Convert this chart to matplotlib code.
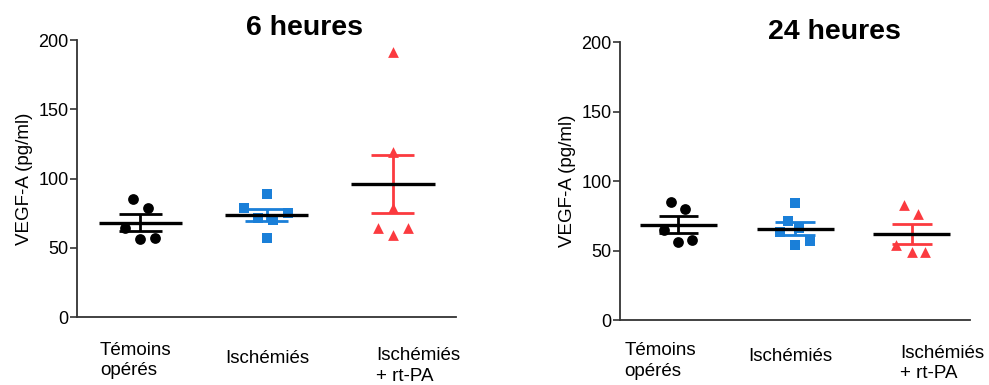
import numpy as np
import matplotlib
matplotlib.use("Agg")
import matplotlib.pyplot as plt
import matplotlib.transforms as mtransforms

plt.rcParams['font.family'] = ['Liberation Sans', 'DejaVu Sans']

# groups and values (pg/ml)
groups = ["Témoins\nopérés", "Ischémiés", "Ischémiés\n+ rt-PA"]
titles = ["6 heures", "24 heures"]

temoins_6h = [85, 79, 64, 56, 57]
ischemies_6h = [89, 79, 71.5, 70, 75, 57]
rtpa_6h = [191, 119, 79, 64, 59, 64]

temoins_24h = [85, 80, 65, 56, 57.5]
ischemies_24h = [84, 71, 63, 66, 57, 54]
rtpa_24h = [82.5, 76.5, 54, 49, 49]

yticks = [0, 50, 100, 150, 200]

# horizontal spread of the dots inside a group (layout only)
jitter_temoins = [-0.06, 0.06, -0.12, 0.0, 0.12]
jitter_isch_6h = [0.0, -0.18, -0.07, 0.055, 0.17, 0.0]
jitter_rtpa_6h = [0.0, 0.0, 0.0, -0.12, 0.0, 0.12]
jitter_isch_24h = [0.0, -0.06, -0.13, 0.03, 0.13, 0.0]
jitter_rtpa_24h = [-0.065, 0.055, -0.135, 0.0, 0.115]

COLORS = ["black", "#1a7fd8", "#fb3a3f"]
MARKERS = ["o", "s", "^"]

fig = plt.figure(figsize=(9.89, 3.85), dpi=100)
ax1 = fig.add_axes([0.0779, 0.1766, 0.3832, 0.7195])
ax2 = fig.add_axes([0.6269, 0.1688, 0.3539, 0.7221])

panels = [
    (ax1, [temoins_6h, ischemies_6h, rtpa_6h],
     [jitter_temoins, jitter_isch_6h, jitter_rtpa_6h]),
    (ax2, [temoins_24h, ischemies_24h, rtpa_24h],
     [jitter_temoins, jitter_isch_24h, jitter_rtpa_24h]),
]

# label placement: (x shift from group centre, top in axes fraction)
label_pos = [
    [(-0.32, -0.09), (-0.33, -0.12), (-0.13, -0.11)],
    [(-0.46, -0.08), (-0.40, -0.10), (-0.10, -0.09)],
]
title_pos = [(304, 28), (834, 32)]

for k, (ax, data, jit) in enumerate(panels):
    for i, vals in enumerate(data):
        vals = np.array(vals, dtype=float)
        xs = i + np.array(jit[i])
        mean = vals.mean()
        sem = vals.std(ddof=1) / np.sqrt(len(vals))
        ax.scatter(xs, vals, marker=MARKERS[i], s=60, color=COLORS[i],
                   linewidths=0, zorder=2)
        # SEM bar in group colour, mean line in black
        ax.vlines(i, mean - sem, mean + sem, color=COLORS[i], lw=2, zorder=3)
        ax.hlines([mean - sem, mean + sem], i - 0.17, i + 0.17,
                  color=COLORS[i], lw=2, zorder=3)
        ax.hlines(mean, i - 0.33, i + 0.33, color="black", lw=2.4, zorder=4)

    ax.set_xlim(-0.5, 2.5)
    ax.set_ylim(0, 200)
    ax.set_yticks(yticks)
    ax.set_xticks([])
    ax.tick_params(axis='y', labelsize=13, length=5, width=1.2,
                   color="#333333", pad=1)
    for side in ["top", "right"]:
        ax.spines[side].set_visible(False)
    for side in ["left", "bottom"]:
        ax.spines[side].set_linewidth(1.3)
        ax.spines[side].set_color("#333333")
    ax.set_ylabel("VEGF-A (pg/ml)", fontsize=13.5, labelpad=4)

    trans = mtransforms.blended_transform_factory(ax.transData, ax.transAxes)
    for i, name in enumerate(groups):
        dx, ty = label_pos[k][i]
        ax.text(i + dx, ty, name, transform=trans, ha='left', va='top',
                fontsize=13.5, linespacing=1.25)

    tx, ty = title_pos[k]
    fig.text(tx / 989, 1 - ty / 385, titles[k], ha='center', va='center',
             fontsize=20.5, fontweight='bold')

fig.savefig("out.png", dpi=100)
